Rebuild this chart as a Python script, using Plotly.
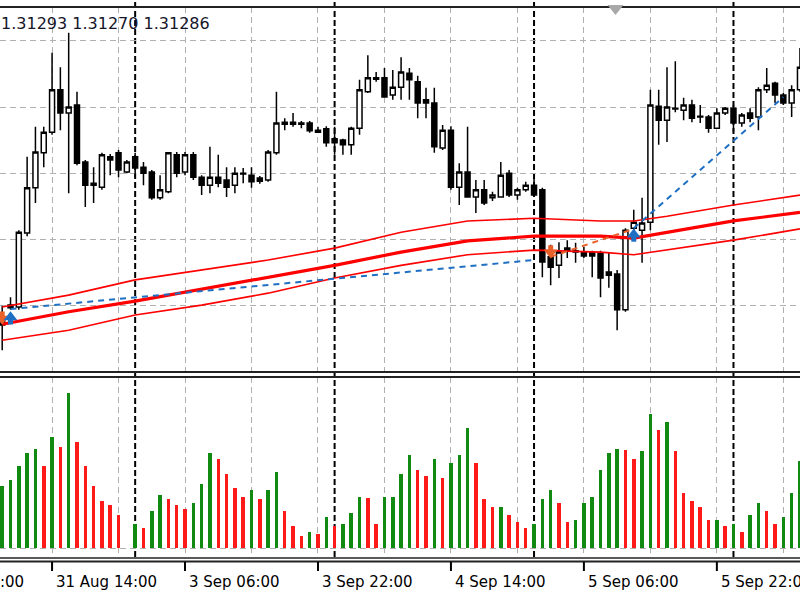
import pandas as pd
import plotly.graph_objects as go

# ---------------- data ----------------
# H1 bars, first bar 31 Aug 08:00 (weekend skipped)
opens = [1.30882, 1.30901, 1.30898, 1.31010, 1.31078, 1.31131, 1.31162, 1.31226, 1.31191, 1.31203,
         1.31117, 1.31085, 1.31079, 1.31125, 1.31131, 1.31102, 1.31125, 1.31109, 1.31102, 1.31063,
         1.31072, 1.31128, 1.31102, 1.31128, 1.31094, 1.31082, 1.31094, 1.31090, 1.31082, 1.31100,
         1.31097, 1.31093, 1.31090, 1.31131, 1.31177, 1.31177, 1.31176, 1.31176, 1.31165, 1.31167,
         1.31152, 1.31150, 1.31143, 1.31168, 1.31223, 1.31244, 1.31244, 1.31218, 1.31230, 1.31251,
         1.31238, 1.31211, 1.31206, 1.31138, 1.31165, 1.31079, 1.31102, 1.31064, 1.31075, 1.31063,
         1.31064, 1.31100, 1.31067, 1.31075, 1.31082, 1.31075, 1.30974, 1.30961, 1.30987, 1.30983,
         1.30980, 1.30980, 1.30980, 1.30951, 1.30948, 1.30894, 1.31017, 1.31014, 1.31026, 1.31201,
         1.31180, 1.31198, 1.31195, 1.31203, 1.31186, 1.31185, 1.31168, 1.31191, 1.31198, 1.31176,
         1.31191, 1.31185, 1.31226, 1.31236, 1.31218, 1.31206, 1.31226]
highs = [1.30900, 1.30913, 1.31014, 1.31125, 1.31170, 1.31170, 1.31282, 1.31260, 1.31312, 1.31223,
         1.31120, 1.31109, 1.31131, 1.31129, 1.31135, 1.31120, 1.31131, 1.31117, 1.31105, 1.31097,
         1.31132, 1.31132, 1.31132, 1.31132, 1.31097, 1.31140, 1.31128, 1.31109, 1.31109, 1.31108,
         1.31109, 1.31096, 1.31135, 1.31223, 1.31183, 1.31191, 1.31179, 1.31179, 1.31170, 1.31171,
         1.31170, 1.31152, 1.31170, 1.31241, 1.31278, 1.31253, 1.31259, 1.31256, 1.31275, 1.31259,
         1.31247, 1.31229, 1.31229, 1.31173, 1.31171, 1.31115, 1.31170, 1.31090, 1.31090, 1.31072,
         1.31117, 1.31105, 1.31078, 1.31087, 1.31094, 1.31078, 1.30992, 1.30996, 1.30999, 1.30995,
         1.30989, 1.30983, 1.30983, 1.30980, 1.30954, 1.31017, 1.31045, 1.31063, 1.31226, 1.31226,
         1.31260, 1.31269, 1.31214, 1.31211, 1.31203, 1.31188, 1.31198, 1.31200, 1.31203, 1.31191,
         1.31198, 1.31230, 1.31259, 1.31238, 1.31221, 1.31233, 1.31289]
lows = [1.30833, 1.30894, 1.30894, 1.31005, 1.31055, 1.31109, 1.31158, 1.31165, 1.31070, 1.31112,
        1.31049, 1.31055, 1.31075, 1.31097, 1.31094, 1.31100, 1.31094, 1.31082, 1.31060, 1.31060,
        1.31070, 1.31094, 1.31097, 1.31090, 1.31067, 1.31070, 1.31079, 1.31064, 1.31070, 1.31085,
        1.31078, 1.31084, 1.31087, 1.31128, 1.31165, 1.31170, 1.31168, 1.31161, 1.31161, 1.31140,
        1.31128, 1.31128, 1.31128, 1.31158, 1.31221, 1.31238, 1.31214, 1.31211, 1.31211, 1.31211,
        1.31183, 1.31183, 1.31131, 1.31135, 1.31075, 1.31052, 1.31063, 1.31040, 1.31052, 1.31058,
        1.31063, 1.31064, 1.31060, 1.31072, 1.31064, 1.30943, 1.30931, 1.30942, 1.30972, 1.30965,
        1.30972, 1.30943, 1.30913, 1.30927, 1.30863, 1.30891, 1.31011, 1.30965, 1.31014, 1.31143,
        1.31147, 1.31192, 1.31180, 1.31177, 1.31176, 1.31161, 1.31167, 1.31188, 1.31162, 1.31170,
        1.31177, 1.31165, 1.31221, 1.31206, 1.31203, 1.31185, 1.31223]
closes = [1.30871, 1.30897, 1.31011, 1.31078, 1.31132, 1.31162, 1.31226, 1.31191, 1.31200, 1.31115,
          1.31082, 1.31082, 1.31128, 1.31120, 1.31105, 1.31117, 1.31108, 1.31100, 1.31063, 1.31075,
          1.31131, 1.31100, 1.31128, 1.31094, 1.31082, 1.31094, 1.31085, 1.31079, 1.31100, 1.31099,
          1.31087, 1.31088, 1.31132, 1.31176, 1.31174, 1.31174, 1.31174, 1.31164, 1.31162, 1.31146,
          1.31146, 1.31143, 1.31168, 1.31226, 1.31244, 1.31242, 1.31215, 1.31230, 1.31253, 1.31241,
          1.31206, 1.31206, 1.31140, 1.31165, 1.31079, 1.31102, 1.31064, 1.31075, 1.31055, 1.31067,
          1.31097, 1.31067, 1.31075, 1.31082, 1.31067, 1.30966, 1.30958, 1.30981, 1.30983, 1.30981,
          1.30975, 1.30975, 1.30942, 1.30946, 1.30894, 1.31014, 1.31026, 1.31025, 1.31203, 1.31180,
          1.31200, 1.31197, 1.31203, 1.31183, 1.31185, 1.31168, 1.31191, 1.31198, 1.31176, 1.31188,
          1.31183, 1.31226, 1.31233, 1.31218, 1.31206, 1.31226, 1.31260]
volumes = [1240, 1360, 1640, 1900, 1980, 1640, 2220, 2020, 3100, 2120,
           1640, 1240, 940, 860, 660, 0, 480, 400, 740, 1060,
           980, 860, 780, 900, 1280, 1900, 1780, 1480, 1200, 1020,
           1160, 980, 1160, 1520, 740, 440, 240, 320, 280, 620,
           440, 480, 700, 1020, 1010, 480, 1020, 1030, 1480, 1860,
           1560, 1440, 1780, 1400, 1700, 1860, 2400, 1700, 980, 820,
           830, 660, 520, 400, 480, 980, 1160, 900, 520, 560,
           900, 1020, 1560, 1900, 1980, 1970, 1780, 1940, 2680, 2360,
           2520, 1940, 1100, 940, 820, 560, 570, 440, 480, 320,
           660, 900, 740, 480, 620, 1100, 1740]

# envelope (moving average + bands), read at bar positions
env_bar = [0, 8, 16, 24, 32, 40, 48, 56, 64, 72, 76, 80, 88, 96]
env_mid = [1.30872, 1.30891, 1.30907, 1.30925, 1.30943, 1.30961, 1.30981, 1.30998, 1.31005, 1.31005,
           1.31002, 1.31011, 1.31028, 1.31041]
env_up = [1.30898, 1.30916, 1.30939, 1.30954, 1.30969, 1.30987, 1.31011, 1.31028, 1.31032, 1.31028,
          1.31028, 1.31035, 1.31052, 1.31067]
env_low = [1.30848, 1.30863, 1.30886, 1.30901, 1.30919, 1.30942, 1.30961, 1.30977, 1.30984, 1.30981,
           1.30977, 1.30984, 1.30999, 1.31016]

# trades (open bar, open price, close bar, close price)
buy_trades = [(1, 1.30895, 64, 1.30969), (76, 1.31017, 94, 1.31215)]
sell_trades = [(66, 1.30974, 76, 1.31016)]
buy_signals_bar = [1, 76]
buy_signals_price = [1.30880, 1.31005]
sell_signals_bar = [0, 66]
sell_signals_price = [1.30883, 1.30983]

header_text = "1.31293 1.31270 1.31286"

# ---------------- layout helpers ----------------
N = len(opens)
bars = list(range(N))
times = [t for t in pd.date_range("2018-08-30 22:00", periods=240, freq="h") if t.dayofweek < 5]
first_bar_offset = 10  # times[10] is bar 0 (31 Aug 08:00)
def bar_time(i):
    return times[i + first_bar_offset]

W, H = 800, 600
PX = 8.31
X0 = -2.2 / PX
X1 = X0 + W / PX

def py(px):
    return 1 - px / H

def paper_x(bar):
    return (bar - X0) / (X1 - X0)

GRID = "#b0b0b0"
GREEN = "#118a11"
RED = "#ff1a1a"
BLUE = "#1f6fc2"
ORANGE = "#e8602a"

price_lo = 1.3080
price_per_px = 0.001 / 66.25
price_hi = price_lo + 365 * price_per_px
vol_lo, vol_hi = -180, 3420

fig = go.Figure()

fig.add_trace(go.Candlestick(
    x=bars, open=opens, high=highs, low=lows, close=closes,
    increasing=dict(line=dict(color="black", width=1.5), fillcolor="white"),
    decreasing=dict(line=dict(color="black", width=1.5), fillcolor="black"),
    whiskerwidth=0, xaxis="x", yaxis="y", showlegend=False, hoverinfo="skip"))

for ys, w in [(env_up, 1.6), (env_low, 1.6), (env_mid, 3.2)]:
    fig.add_trace(go.Scatter(x=env_bar, y=ys, mode="lines", line=dict(color="#ff0000", width=w),
                             xaxis="x", yaxis="y", showlegend=False, hoverinfo="skip"))

for (b0, p0, b1, p1) in buy_trades:
    fig.add_trace(go.Scatter(x=[b0, b1], y=[p0, p1], mode="lines",
                             line=dict(color=BLUE, width=2, dash="6px,5px"),
                             xaxis="x", yaxis="y", showlegend=False, hoverinfo="skip"))
for (b0, p0, b1, p1) in sell_trades:
    fig.add_trace(go.Scatter(x=[b0, b1], y=[p0, p1], mode="lines",
                             line=dict(color=ORANGE, width=2, dash="6px,5px"),
                             xaxis="x", yaxis="y", showlegend=False, hoverinfo="skip"))

# signal arrows: triangle head + square stem (MetaTrader style thick arrow)
off = 3 * price_per_px
for bars_s, prices_s, color, head, sign in [
        (sell_signals_bar, sell_signals_price, ORANGE, "triangle-down", -1),
        (buy_signals_bar, buy_signals_price, BLUE, "triangle-up", 1)]:
    fig.add_trace(go.Scatter(x=bars_s, y=[p - sign * off for p in prices_s], mode="markers",
                             marker=dict(symbol="square", size=5, color=color, line=dict(width=0)),
                             xaxis="x", yaxis="y", showlegend=False, hoverinfo="skip"))
    fig.add_trace(go.Scatter(x=bars_s, y=[p + sign * off * 0.6 for p in prices_s], mode="markers",
                             marker=dict(symbol=head, size=12, color=color, line=dict(width=0)),
                             xaxis="x", yaxis="y", showlegend=False, hoverinfo="skip"))

vol_colors = [GREEN] + [GREEN if volumes[i] > volumes[i - 1] else RED for i in range(1, N)]
fig.add_trace(go.Bar(x=bars, y=volumes, marker=dict(color=vol_colors, line=dict(width=0)),
                     width=0.42, xaxis="x2", yaxis="y2", showlegend=False, hoverinfo="skip"))

# ---------------- axes ----------------
common_x = dict(range=[X0, X1], showticklabels=False, ticks="", zeroline=False, showline=False,
                showgrid=True, gridcolor=GRID, gridwidth=1, griddash="6px,4px",
                tickmode="linear", tick0=6, dtick=8, fixedrange=True)
fig.update_layout(
    width=W, height=H, margin=dict(l=0, r=0, t=0, b=0),
    paper_bgcolor="white", plot_bgcolor="white",
    boxgap=0.25, boxgroupgap=0.2, bargap=0,
    xaxis=dict(**common_x, domain=[0, 1], anchor="y", rangeslider=dict(visible=False)),
    xaxis2=dict(**common_x, domain=[0, 1], anchor="y2", matches="x"),
    yaxis=dict(domain=[py(372), py(7)], range=[price_lo, price_hi], showticklabels=False,
               ticks="", zeroline=False, showline=False, showgrid=True, gridcolor=GRID,
               griddash="6px,4px", tickmode="linear", tick0=1.3080, dtick=0.001, fixedrange=True),
    yaxis2=dict(domain=[py(557), py(377)], range=[vol_lo, vol_hi], showticklabels=False,
                ticks="", zeroline=False, showline=False, showgrid=True, gridcolor=GRID,
                griddash="6px,4px", tickmode="array", tickvals=[0], fixedrange=True),
    font=dict(family="DejaVu Sans", color="black"),
)

shapes = []
# day separators (midnight bars)
for i in bars:
    if bar_time(i).hour == 0:
        shapes.append(dict(type="line", xref="x", yref="paper", x0=i, x1=i, y0=py(557), y1=py(0),
                           line=dict(color="black", width=2, dash="6px,3px"), layer="below"))
# pane borders
for ypx, w in [(7, 2), (372, 2), (377, 2), (558, 1.5), (561.5, 2)]:
    shapes.append(dict(type="line", xref="paper", yref="paper", x0=0, x1=1, y0=py(ypx), y1=py(ypx),
                       line=dict(color="#222222", width=w)))
# time axis ticks & labels
annotations = []
for i in range(-10, N, 16):
    if 0 <= i < N:
        shapes.append(dict(type="line", xref="x", yref="paper", x0=i, x1=i, y0=py(562), y1=py(571),
                           line=dict(color="black", width=2)))
    annotations.append(dict(xref="paper", yref="paper", x=paper_x(i) + 2 / W, y=py(581.5),
                            text=bar_time(i).strftime("%-d %b %H:%M"), showarrow=False,
                            xanchor="left", yanchor="middle", font=dict(size=15, color="black")))
# chart shift marker
tx = 615.5 / W
shapes.append(dict(type="path", xref="paper", yref="paper",
                   path=f"M {tx - 8 / W},{py(5)} L {tx + 8 / W},{py(5)} L {tx},{py(15)} Z",
                   fillcolor="#a8a8a8", line=dict(width=0)))

annotations.append(dict(xref="paper", yref="paper", x=-1 / W, y=py(23.5), text=header_text,
                        showarrow=False, xanchor="left", yanchor="middle",
                        font=dict(size=16, color="#15152a")))

fig.update_layout(shapes=shapes, annotations=annotations)
fig.write_html("out.html")
